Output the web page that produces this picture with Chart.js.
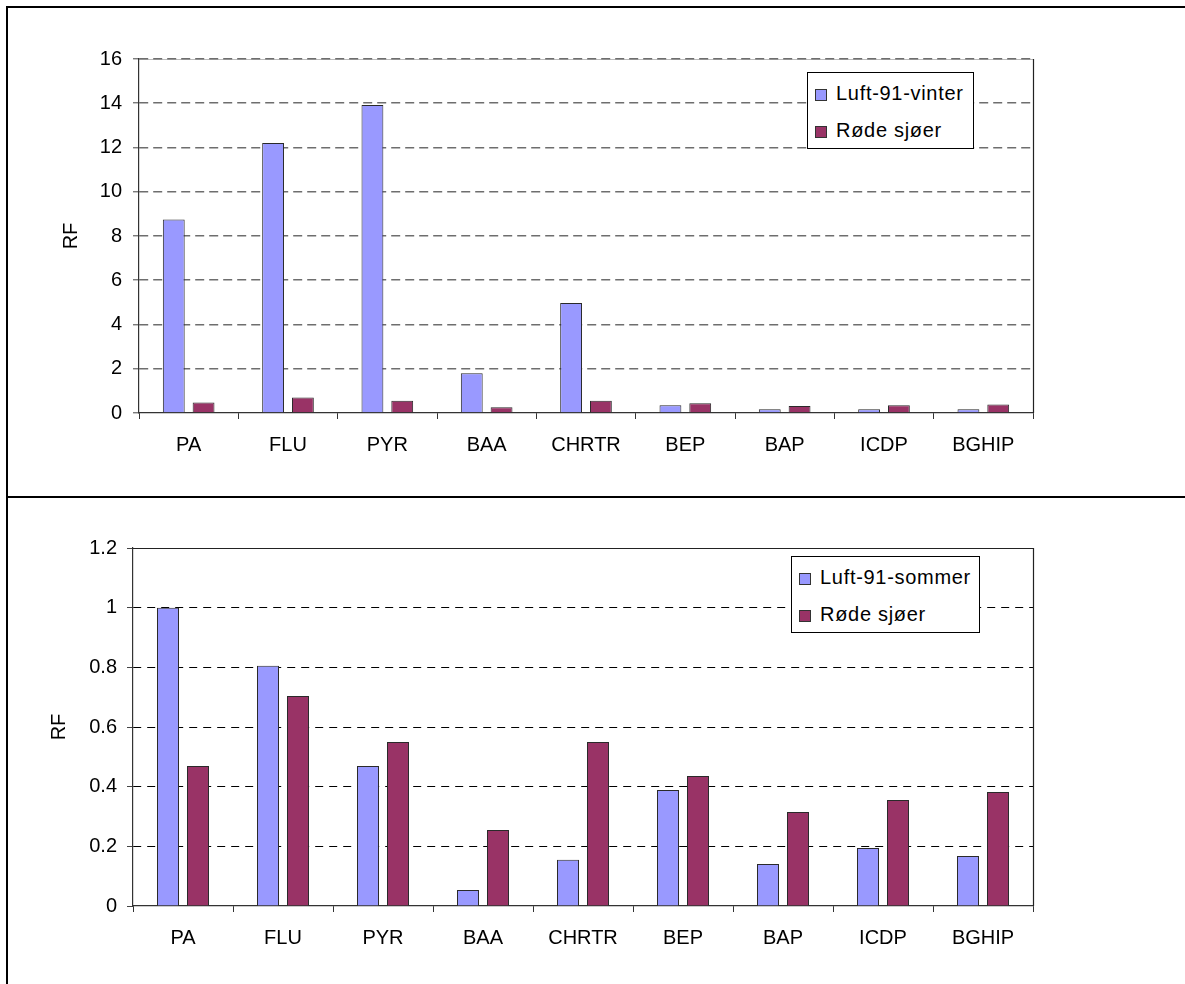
<!DOCTYPE html>
<html>
<head>
<meta charset="utf-8">
<script src="https://cdn.jsdelivr.net/npm/chart.js@4.4.1/dist/chart.umd.min.js"></script>
<style>
  html, body { margin: 0; padding: 0; background: #fff; overflow: hidden; width: 1185px; height: 984px; }
  body { position: relative; font-family: "Liberation Sans", Arial, sans-serif; }
  .panel { position: absolute; left: 6px; border: 2px solid #000; border-right: none; width: 1300px; }
  #panelTop { top: 6px; height: 488px; border-bottom: none; }
  #panelBottom { top: 496px; height: 600px; border-bottom: none; }
  .wrap { position: absolute; left: 8px; width: 1175px; }
  #wrapTop { top: 8px; height: 488px; }
  #wrapBottom { top: 498px; height: 486px; }
  .legend { position: absolute; border: 1px solid #000; background: #fff; box-sizing: border-box; }
  .legend .row { position: absolute; left: 7px; height: 37px; line-height: 37px; font-size: 20px; letter-spacing: 0.7px; color: #000; white-space: nowrap; }
  .legend .sw { display: inline-block; width: 12px; height: 12px; box-sizing: border-box; border: 1px solid #333; margin-right: 9px; vertical-align: -1px; }
</style>
</head>
<body>
<div class="panel" id="panelTop"></div>
<div class="panel" id="panelBottom"></div>
<div class="wrap" id="wrapTop"><canvas id="chartTop" width="1175" height="488"></canvas></div>
<div class="wrap" id="wrapBottom"><canvas id="chartBottom" width="1175" height="486"></canvas></div>
<div class="legend" id="legendTop" style="left:807px; top:72px; width:167px; height:77px;"></div>
<div class="legend" id="legendBottom" style="left:791px; top:556px; width:189px; height:77px;"></div>
<script>
'use strict';

// ---------- data ----------
const CATEGORIES = ['PA', 'FLU', 'PYR', 'BAA', 'CHRTR', 'BEP', 'BAP', 'ICDP', 'BGHIP'];
const LUFT_VINTER = [8.75, 12.2, 13.92, 1.8, 4.97, 0.35, 0.17, 0.17, 0.17];
const LUFT_SOMMER = [1.0, 0.805, 0.469, 0.054, 0.155, 0.389, 0.141, 0.194, 0.168];
const RODE_SJOER = [0.469, 0.704, 0.55, 0.255, 0.55, 0.436, 0.315, 0.355, 0.382];
const SERIES_TOP = ['Luft-91-vinter', 'Røde sjøer'];
const SERIES_BOTTOM = ['Luft-91-sommer', 'Røde sjøer'];
const Y_TOP = { max: 16, step: 2 };
const Y_BOTTOM = { max: 1.2, step: 0.2 };
const AXIS_TITLE = 'RF';

const BLUE = '#9999FF';
const WINE = '#993366';
const FONT = '"Liberation Sans", Arial, sans-serif';

Chart.defaults.font.family = FONT;
Chart.defaults.font.size = 20;
Chart.defaults.color = '#000';

// plot frame lines (top/right) that Excel draws round the plot area
const framePlugin = {
  id: 'frame',
  beforeDraw(chart, args, opts) {
    const a = chart.chartArea, ctx = chart.ctx;
    if (opts.under) {
      ctx.save();
      ctx.strokeStyle = opts.under;
      ctx.lineWidth = 1;
      ctx.beginPath();
      ctx.moveTo(a.left, a.top + 0.5);
      ctx.lineTo(a.right, a.top + 0.5);
      ctx.stroke();
      ctx.restore();
    }
  },
  afterDraw(chart, args, opts) {
    const a = chart.chartArea, ctx = chart.ctx;
    ctx.save();
    ctx.strokeStyle = opts.color || '#222';
    ctx.lineWidth = 1.2;
    ctx.beginPath();
    if (opts.top) {
      ctx.moveTo(a.left, a.top + 0.5);
      ctx.lineTo(a.right + 0.5, a.top + 0.5);
    }
    ctx.moveTo(a.right + 0.5, a.top);
    ctx.lineTo(a.right + 0.5, a.bottom);
    ctx.stroke();
    ctx.restore();
  },
};

function makeChart(id, cfg) {
  const bar = (label, data, color) => ({
    label, data, backgroundColor: color, borderColor: '#2a2a2a', borderWidth: 1,
    categoryPercentage: 0.6, barPercentage: 0.733,
  });
  return new Chart(document.getElementById(id).getContext('2d'), {
    type: 'bar',
    data: {
      labels: CATEGORIES,
      datasets: [bar(cfg.series[0], cfg.first, BLUE), bar(cfg.series[1], RODE_SJOER, WINE)],
    },
    plugins: [framePlugin],
    options: {
      responsive: false,
      animation: false,
      events: [],
      layout: { padding: { top: cfg.padTop, right: 150, left: 0, bottom: 0 } },
      plugins: {
        legend: { display: false },
        tooltip: { enabled: false },
        frame: { top: cfg.solidTop, under: cfg.underTop, color: '#222' },
      },
      scales: {
        x: {
          afterFit: (s) => { s.height = cfg.xHeight; },
          grid: { display: true, drawOnChartArea: false, drawTicks: true, tickLength: 6, tickColor: '#333', tickWidth: 1, offset: true },
          border: { display: true, color: '#333', width: 1.2 },
          ticks: { padding: 14, color: '#000', maxRotation: 0, autoSkip: false },
        },
        y: {
          min: 0, max: cfg.y.max,
          afterFit: (s) => { s.width = cfg.yWidth; },
          ticks: {
            stepSize: cfg.y.step, padding: cfg.tickPad, color: '#000',
            callback: (v) => String(Math.round(v * 10) / 10),
          },
          grid: {
            drawTicks: true, tickLength: 6, tickColor: '#444', tickWidth: 1, tickBorderDash: [],
            lineWidth: cfg.gridWidth,
            color: (c) => {
              const v = c.tick ? c.tick.value : 0;
              if (v === 0) return 'rgba(0,0,0,0)';
              if (cfg.solidTop && Math.abs(v - cfg.y.max) < 1e-6) return 'rgba(0,0,0,0)';
              return cfg.gridColor;
            },
          },
          border: { display: true, color: '#333', width: 1.2, dash: cfg.dash },
          title: { display: true, text: AXIS_TITLE, color: '#000', font: { size: 20 }, padding: { top: cfg.titlePad, bottom: 0 } },
        },
      },
    },
  });
}

function buildLegend(elId, chart) {
  const el = document.getElementById(elId);
  el.innerHTML = chart.data.datasets.map((d, i) =>
    `<div class="row" style="top:${2 + i * 37}px"><span class="sw" style="background:${d.backgroundColor}"></span>${d.label}</div>`
  ).join('');
}

const winterChart = makeChart('chartTop', {
  series: SERIES_TOP, first: LUFT_VINTER, y: Y_TOP,
  padTop: 51, xHeight: 83, yWidth: 131, tickPad: 11, titlePad: 51.5,
  gridColor: '#6e6e6e', gridWidth: 1.6, dash: [9, 5], solidTop: false, underTop: '#bbb',
});
const summerChart = makeChart('chartBottom', {
  series: SERIES_BOTTOM, first: LUFT_SOMMER, y: Y_BOTTOM,
  padTop: 50, xHeight: 78, yWidth: 125, tickPad: 10, titlePad: 39,
  gridColor: '#000', gridWidth: 1, dash: [8, 6], solidTop: true, underTop: null,
});
buildLegend('legendTop', winterChart);
buildLegend('legendBottom', summerChart);
</script>
</body>
</html>
